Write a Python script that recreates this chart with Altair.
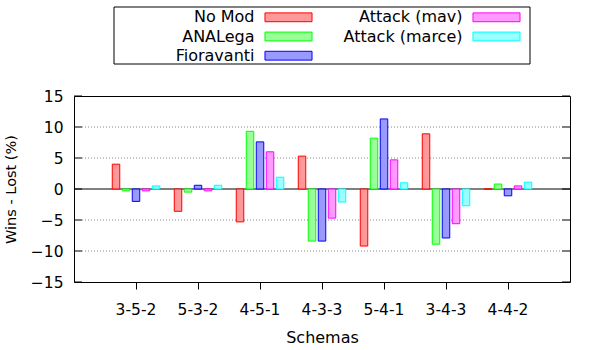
import altair as alt
import pandas as pd

schemas = ["3-5-2", "5-3-2", "4-5-1", "4-3-3", "5-4-1", "3-4-3", "4-4-2"]
series = ["No Mod", "ANALega", "Fioravanti", "Attack (mav)", "Attack (marce)"]
no_mod = [4.0, -3.6, -5.3, 5.3, -9.2, 8.9, 0.0]
analega = [-0.3, -0.5, 9.3, -8.4, 8.2, -8.9, 0.8]
fioravanti = [-2.0, 0.6, 7.6, -8.4, 11.3, -7.9, -1.1]
attack_mav = [-0.3, -0.3, 6.0, -4.7, 4.7, -5.6, 0.5]
attack_marce = [0.5, 0.6, 1.9, -2.1, 1.0, -2.7, 1.1]
fill_colors = ["#ff9999", "#99ff99", "#9999ff", "#ff99ff", "#99ffff"]
stroke_colors = ["#ff0000", "#00ff00", "#0000ff", "#ff00ff", "#00ffff"]
y_ticks = [-15, -10, -5, 0, 5, 10, 15]
grid_values = [-10, -5, 5, 10]

values_by_series = [no_mod, analega, fioravanti, attack_mav, attack_marce]
rows = []
for s, vals in zip(series, values_by_series):
    for sch, v in zip(schemas, vals):
        rows.append({"schema": sch, "series": s, "value": v})
df = pd.DataFrame(rows)

# legend table: gnuplot fills the key column by column, 3 rows per column
legend_df = pd.DataFrame({
    "series": series,
    "col": [i // 3 for i in range(len(series))],
    "row": [i % 3 for i in range(len(series))],
})

FONT = "DejaVu Sans"
y_scale = alt.Scale(domain=[-15, 15], nice=False)
fill_scale = alt.Scale(domain=series, range=fill_colors)
stroke_scale = alt.Scale(domain=series, range=stroke_colors)

bars = alt.Chart(df).mark_bar(strokeWidth=1, opacity=1).encode(
    x=alt.X("schema:N", sort=schemas,
            scale=alt.Scale(paddingInner=0, paddingOuter=0.5),
            axis=alt.Axis(title="Schemas", labelAngle=0, ticks=True, tickSize=7,
                          tickColor="black", labelPadding=13, labelFontSize=15.5,
                          titleFontSize=16, titlePadding=12)),
    xOffset=alt.XOffset("series:N", sort=series,
                        scale=alt.Scale(paddingInner=0.25, paddingOuter=0.725)),
    y=alt.Y("value:Q", scale=y_scale,
            axis=alt.Axis(title="Wins - Lost (%)", values=y_ticks, ticks=False,
                          labelPadding=11, labelFontSize=15.5, titleFontSize=14.5,
                          titlePadding=12)),
    fill=alt.Fill("series:N", scale=fill_scale, legend=None),
    stroke=alt.Stroke("series:N", scale=stroke_scale, legend=None),
)

grid = alt.Chart(pd.DataFrame({"v": grid_values})).mark_rule(
    color="#888888", strokeDash=[1, 2], strokeWidth=1
).encode(y=alt.Y("v:Q", scale=y_scale, axis=None), x=alt.value(8), x2=alt.value(488))

zero = alt.Chart(pd.DataFrame({"v": [0]})).mark_rule(color="black", strokeWidth=1).encode(
    y=alt.Y("v:Q", scale=y_scale, axis=None)
)

ticks_left = alt.Chart(pd.DataFrame({"v": y_ticks})).mark_rule(color="black", strokeWidth=1).encode(
    y=alt.Y("v:Q", scale=y_scale, axis=None), x=alt.value(0), x2=alt.value(8)
)
ticks_right = alt.Chart(pd.DataFrame({"v": y_ticks})).mark_rule(color="black", strokeWidth=1).encode(
    y=alt.Y("v:Q", scale=y_scale, axis=None), x=alt.value(488), x2=alt.value(496)
)

# key (legend) drawn with its own point scales, above the plot
key_x = alt.X("col:O", axis=None, scale=alt.Scale(type="point", padding=0, range=[214.5, 422.5]))
key_y = alt.Y("row:O", axis=None, scale=alt.Scale(type="point", padding=0, range=[-78.7, -40.3]))

key_swatch = alt.Chart(legend_df).mark_point(
    shape="M-0.96,-0.18L0.96,-0.18L0.96,0.18L-0.96,0.18Z",
    size=2401, filled=True, strokeWidth=1, opacity=1,
).encode(
    x=key_x, y=key_y,
    fill=alt.Fill("series:N", scale=fill_scale, legend=None),
    stroke=alt.Stroke("series:N", scale=stroke_scale, legend=None),
)
key_label = alt.Chart(legend_df).mark_text(
    align="right", baseline="middle", dx=-34, font=FONT, fontSize=16, color="black"
).encode(x=key_x, y=key_y, text="series:N")

legend_box = alt.Chart(pd.DataFrame({"a": [0]})).mark_rect(
    filled=False, stroke="black", strokeWidth=1
).encode(x=alt.value(40), x2=alt.value(456), y=alt.value(-89), y2=alt.value(-32))

chart = alt.layer(
    grid, zero, bars, ticks_left, ticks_right, key_swatch, key_label, legend_box
).resolve_scale(x="independent", y="independent").properties(
    width=496, height=186,
    autosize=alt.AutoSizeParams(type="none"),
    padding={"left": 74, "top": 96, "right": 30, "bottom": 68},
).configure_view(stroke="black", strokeWidth=1).configure_axis(
    labelFont=FONT, titleFont=FONT, labelColor="black", titleColor="black",
    titleFontWeight="normal", grid=False, domain=False,
)

chart.save("out.html", embed_options={"renderer": "svg", "actions": False})
